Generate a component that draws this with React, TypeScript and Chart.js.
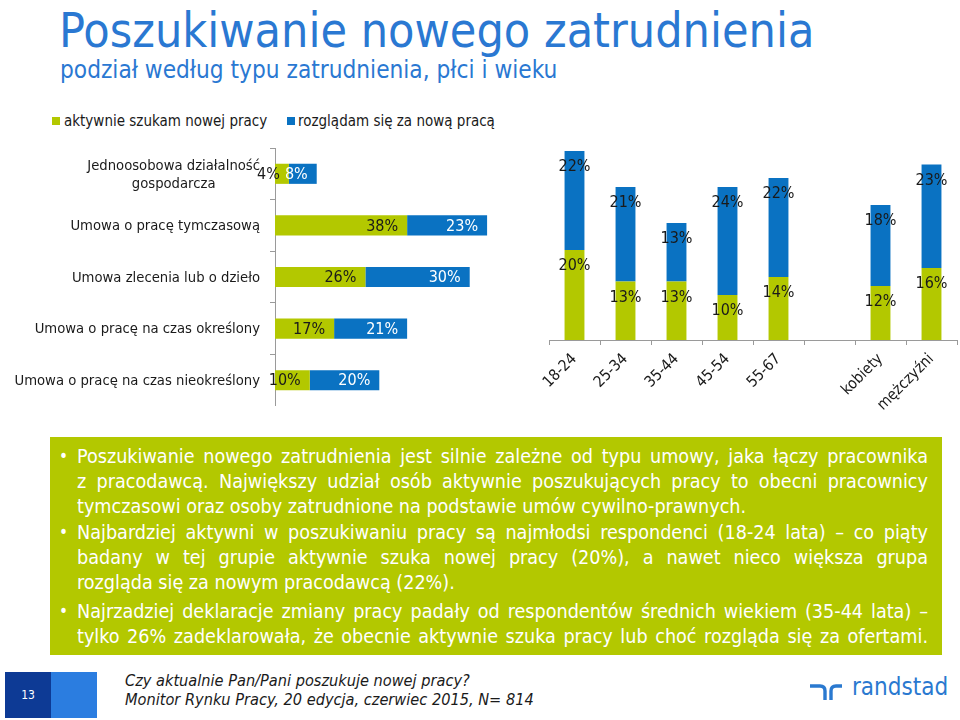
import React, { useEffect, useRef } from "react";
import { Chart, registerables } from "chart.js";

Chart.register(...registerables);

const FONT = '"DejaVu Sans Condensed", "DejaVu Sans", sans-serif';
const GREEN = "#B3C800";
const BLUE = "#0A72C2";
const TITLE_BLUE = "#2A78D2";
const AXIS = "#9a9a9a";

const seriesNames = ["aktywnie szukam nowej pracy", "rozglądam się za nową pracą"];

const contractCategories: (string | string[])[] = [
  ["Jednoosobowa działalność", "gospodarcza"],
  "Umowa o pracę tymczasową",
  "Umowa zlecenia lub o dzieło",
  "Umowa o pracę na czas określony",
  "Umowa o pracę na czas nieokreślony",
];
const contractActive = [4, 38, 26, 17, 10];
const contractLooking = [8, 23, 30, 21, 20];

const groupCategories = ["18-24", "25-34", "35-44", "45-54", "55-67", "", "kobiety", "mężczyźni"];
const groupActive = [20, 13, 13, 10, 14, null, 12, 16];
const groupLooking = [22, 21, 13, 24, 22, null, 18, 23];

const bulletParagraphs: string[][] = [
  [
    "Poszukiwanie nowego zatrudnienia jest silnie zależne od typu umowy, jaka łączy pracownika",
    "z pracodawcą. Największy udział osób aktywnie poszukujących pracy to obecni pracownicy",
    "tymczasowi oraz osoby zatrudnione na podstawie umów cywilno-prawnych.",
  ],
  [
    "Najbardziej aktywni w poszukiwaniu pracy są najmłodsi respondenci (18-24 lata) – co piąty",
    "badany w tej grupie aktywnie szuka nowej pracy (20%), a nawet nieco większa grupa",
    "rozgląda się za nowym pracodawcą (22%).",
  ],
  [
    "Najrzadziej deklaracje zmiany pracy padały od respondentów średnich wiekiem (35-44 lata) –",
    "tylko 26% zadeklarowała, że obecnie aktywnie szuka pracy lub choć rozgląda się za ofertami.",
  ],
];
const lineCenters = [[456, 481, 506], [532, 557, 582], [611, 636]];

function ContractChart() {
  const ref = useRef<HTMLCanvasElement>(null);
  useEffect(() => {
    const labelPlugin = {
      id: "contractLabels",
      afterDatasetsDraw(chart: any) {
        const ctx = chart.ctx;
        ctx.save();
        ctx.font = `16px ${FONT}`;
        ctx.textAlign = "right";
        ctx.textBaseline = "middle";
        chart.data.datasets.forEach((ds: any, i: number) => {
          const meta = chart.getDatasetMeta(i);
          meta.data.forEach((el: any, j: number) => {
            const v = ds.data[j];
            if (v == null) return;
            ctx.fillStyle = i === 0 ? "#1a1a1a" : "#ffffff";
            ctx.fillText(`${v}%`, el.x - 9, el.y + 1);
          });
        });
        ctx.restore();
      },
      afterDraw(chart: any) {
        const ctx = chart.ctx;
        const sc = chart.scales.y;
        ctx.save();
        ctx.font = `14.7px ${FONT}`;
        ctx.fillStyle = "#1a1a1a";
        ctx.textBaseline = "middle";
        ctx.textAlign = "center";
        const rightEdge = sc.right - 15;
        (chart.data.labels as any[]).forEach((lab: any, i: number) => {
          const lines: string[] = Array.isArray(lab) ? lab : [lab];
          const w = Math.max(...lines.map((l) => ctx.measureText(l).width));
          const cx = rightEdge - w / 2;
          const y = sc.getPixelForTick(i);
          lines.forEach((l, k) => {
            ctx.fillText(l, lines.length > 1 ? cx : rightEdge - ctx.measureText(l).width / 2, y + 1 + (k - (lines.length - 1) / 2) * 18);
          });
        });
        ctx.restore();
      },
    };
    const chart = new Chart(ref.current as HTMLCanvasElement, {
      type: "bar",
      data: {
        labels: contractCategories,
        datasets: [
          { label: seriesNames[0], data: contractActive, backgroundColor: GREEN, barPercentage: 0.39, categoryPercentage: 1 },
          { label: seriesNames[1], data: contractLooking, backgroundColor: BLUE, barPercentage: 0.39, categoryPercentage: 1 },
        ],
      },
      options: {
        indexAxis: "y",
        responsive: false,
        animation: false,
        layout: { padding: 0 },
        plugins: { legend: { display: false }, tooltip: { enabled: false } },
        scales: {
          x: { stacked: true, display: false, min: 0, max: 65 },
          y: {
            stacked: true,
            grid: { drawOnChartArea: false, drawTicks: true, tickLength: 5, offset: true, color: AXIS },
            border: { display: true, color: AXIS },
            ticks: { display: false },
            afterFit: (s: any) => {
              s.width = 275;
              s.paddingTop = 0;
              s.paddingBottom = 0;
            },
          },
        },
      } as any,
      plugins: [labelPlugin],
    });
    return () => chart.destroy();
  }, []);
  return (
    <canvas
      ref={ref}
      width={501}
      height={258}
      style={{ position: "absolute", left: 0, top: 148, width: 501, height: 258 }}
    />
  );
}

function GroupChart() {
  const ref = useRef<HTMLCanvasElement>(null);
  useEffect(() => {
    const labelPlugin = {
      id: "groupLabels",
      afterDatasetsDraw(chart: any) {
        const ctx = chart.ctx;
        ctx.save();
        ctx.font = `16px ${FONT}`;
        ctx.textAlign = "center";
        ctx.textBaseline = "middle";
        ctx.fillStyle = "#1a1a1a";
        chart.data.datasets.forEach((ds: any, i: number) => {
          const meta = chart.getDatasetMeta(i);
          meta.data.forEach((el: any, j: number) => {
            const v = ds.data[j];
            if (v == null) return;
            ctx.fillText(`${v}%`, el.x, el.y + 16);
          });
        });
        ctx.restore();
      },
    };
    const chart = new Chart(ref.current as HTMLCanvasElement, {
      type: "bar",
      data: {
        labels: groupCategories,
        datasets: [
          { label: seriesNames[0], data: groupActive, backgroundColor: GREEN, barPercentage: 0.39, categoryPercentage: 1 },
          { label: seriesNames[1], data: groupLooking, backgroundColor: BLUE, barPercentage: 0.39, categoryPercentage: 1 },
        ],
      },
      options: {
        responsive: false,
        animation: false,
        layout: { padding: { left: 49, right: 3, top: 7.5, bottom: 0 } },
        plugins: { legend: { display: false }, tooltip: { enabled: false } },
        scales: {
          y: { stacked: true, display: false, min: 0, max: 45 },
          x: {
            stacked: true,
            grid: { drawOnChartArea: false, drawTicks: true, tickLength: 5, offset: true, color: AXIS },
            border: { display: true, color: AXIS },
            ticks: { font: { size: 15.5, family: FONT }, color: "#1a1a1a", minRotation: 45, maxRotation: 45, padding: 5, autoSkip: false },
            afterFit: (s: any) => {
              s.height = 80;
            },
          },
        },
      } as any,
      plugins: [labelPlugin],
    });
    return () => chart.destroy();
  }, []);
  return (
    <canvas
      ref={ref}
      width={460}
      height={290}
      style={{ position: "absolute", left: 500, top: 130, width: 460, height: 290 }}
    />
  );
}

export default function App() {
  useEffect(() => {
    document.body.style.margin = "0";
  }, []);
  const abs = (o: React.CSSProperties): React.CSSProperties => ({ position: "absolute", ...o });
  return (
    <div
      style={{
        position: "absolute",
        left: 0,
        top: 0,
        width: 960,
        height: 720,
        overflow: "hidden",
        background: "#ffffff",
        fontFamily: FONT,
        color: "#1a1a1a",
      }}
    >
      <div style={abs({ left: 59, top: 0, fontSize: 48, lineHeight: "60px", color: TITLE_BLUE, whiteSpace: "nowrap" })}>
        Poszukiwanie nowego zatrudnienia
      </div>
      <div style={abs({ left: 60, top: 56, fontSize: 24.2, lineHeight: "28px", color: TITLE_BLUE, whiteSpace: "nowrap" })}>
        podział według typu zatrudnienia, płci i wieku
      </div>

      <div style={abs({ left: 52, top: 117, width: 8, height: 8, background: GREEN })} />
      <div style={abs({ left: 64, top: 111, fontSize: 15, lineHeight: "20px", whiteSpace: "nowrap" })}>{seriesNames[0]}</div>
      <div style={abs({ left: 287, top: 117, width: 8, height: 8, background: BLUE })} />
      <div style={abs({ left: 298, top: 111, fontSize: 15, lineHeight: "20px", whiteSpace: "nowrap" })}>{seriesNames[1]}</div>

      <ContractChart />
      <GroupChart />

      <div style={abs({ left: 50, top: 437, width: 892, height: 218, background: GREEN })} />
      {bulletParagraphs.map((para, pi) =>
        para.map((line, li) => {
          const isLast = li === para.length - 1 && pi !== 2;
          return (
            <React.Fragment key={`${pi}-${li}`}>
              {li === 0 && (
                <div style={abs({ left: 59, top: lineCenters[pi][li] - 12.5, fontSize: 17, lineHeight: "25px", color: "#fff" })}>•</div>
              )}
              <div
                style={abs({
                  left: 77,
                  width: 851,
                  top: lineCenters[pi][li] - 12.5,
                  fontSize: 19.6,
                  lineHeight: "25px",
                  color: "#ffffff",
                  whiteSpace: "nowrap",
                  textAlign: isLast ? "left" : "justify",
                  textAlignLast: isLast ? "left" : "justify",
                } as React.CSSProperties)}
              >
                {line}
              </div>
            </React.Fragment>
          );
        })
      )}

      <div style={abs({ left: 5, top: 672, width: 46, height: 46, background: "#0D3A95" })} />
      <div style={abs({ left: 51, top: 672, width: 46, height: 46, background: "#2B7DE0" })} />
      <div style={abs({ left: 5, top: 672, width: 46, height: 46, color: "#fff", fontSize: 12, lineHeight: "46px", textAlign: "center" })}>13</div>

      <div style={abs({ left: 125, top: 671, fontSize: 16.2, lineHeight: "20px", fontStyle: "italic", whiteSpace: "nowrap" })}>
        Czy aktualnie Pan/Pani poszukuje nowej pracy?
      </div>
      <div style={abs({ left: 125, top: 690, fontSize: 16.2, lineHeight: "20px", fontStyle: "italic", whiteSpace: "nowrap" })}>
        Monitor Rynku Pracy, 20 edycja, czerwiec 2015, N= 814
      </div>

      <svg style={abs({ left: 808, top: 682, width: 36, height: 20 })} width={36} height={20} viewBox="0 0 36 20">
        <path d="M2 4 H12 Q17 4 17 9 V18" fill="none" stroke="#2A79D0" strokeWidth={3.4} />
        <path d="M23 18 V9 Q23 4 28 4 H34" fill="none" stroke="#2A79D0" strokeWidth={3.4} />
      </svg>
      <div style={abs({ left: 852, top: 672, fontSize: 24, lineHeight: "30px", color: "#2A79D0", whiteSpace: "nowrap" })}>randstad</div>
    </div>
  );
}
